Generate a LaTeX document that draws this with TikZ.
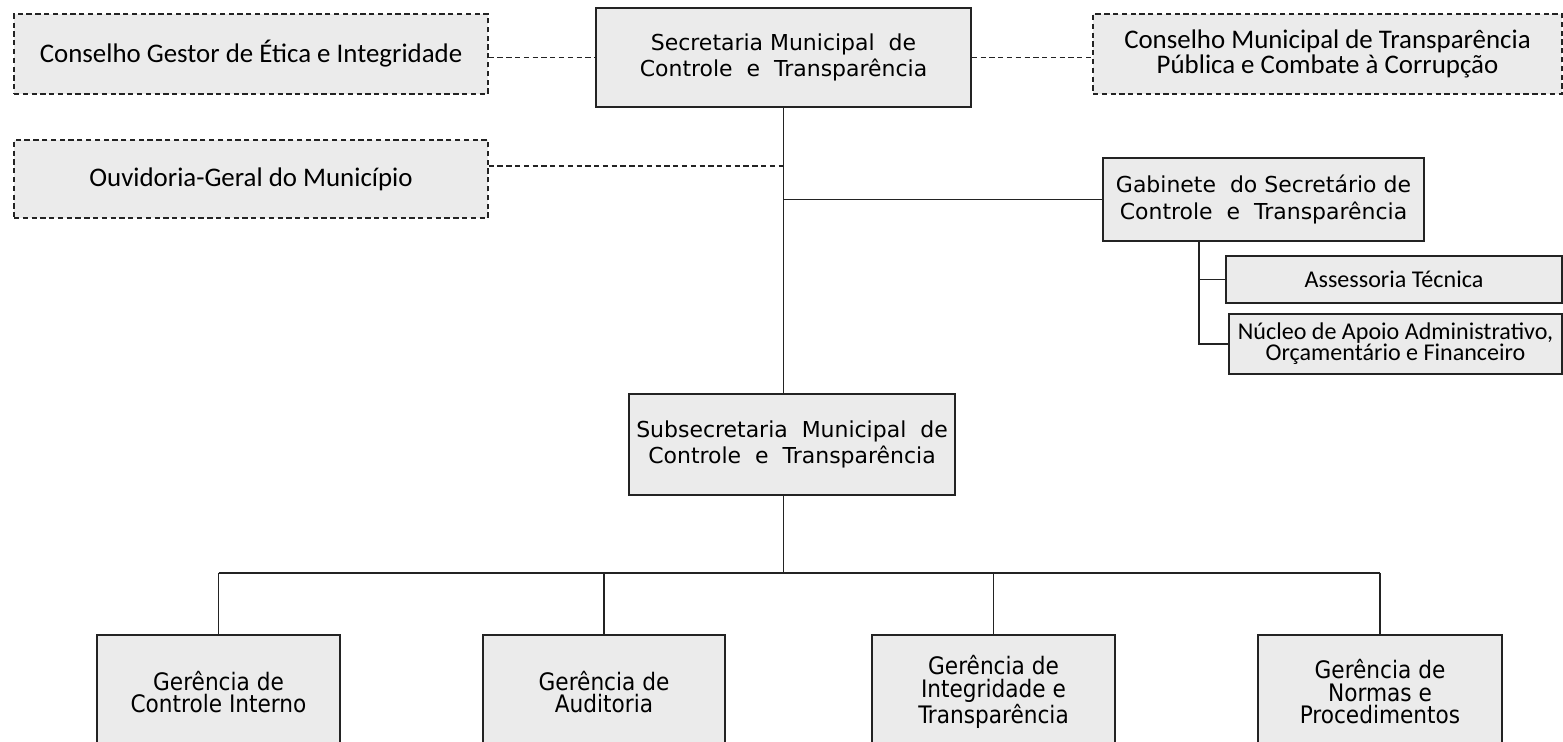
\documentclass[tikz,border=0pt]{standalone}
\usepackage{fontspec}
\setmainfont{DejaVu Sans}
\newfontfamily\condf{Carlito}
\newfontfamily\dvcf{DejaVu Sans Condensed}
\definecolor{boxfill}{RGB}{235,235,235}
\definecolor{edge}{RGB}{35,35,35}
\newcommand{\ws}{\ \ }
\begin{document}
\begin{tikzpicture}[x=0.02cm,y=-0.02cm,
  solidbox/.style={draw=edge,line width=0.9pt,fill=boxfill,align=center,inner sep=0pt},
  dashbox/.style={draw=edge,line width=0.8pt,dash pattern=on 3pt off 2pt,fill=boxfill,align=center,inner sep=0pt},
  link/.style={draw=edge,line width=0.9pt},
  dlink/.style={draw=edge,line width=0.8pt,dash pattern=on 3pt off 2pt},
  widefont/.style={font=\fontsize{12.5}{15.3}\selectfont},
  condfont/.style={font=\condf\fontsize{15.3}{14.5}\selectfont},
  smallcond/.style={font=\condf\fontsize{13.7}{12}\selectfont},
  gerfont/.style={font=\dvcf\fontsize{13.7}{12.8}\selectfont}
]
\useasboundingbox (0,0) rectangle (1563,742);
\clip (0,0) rectangle (1563,742);
\fill[white] (0,0) rectangle (1563,742);

% top row
\node[dashbox,condfont,minimum width=474*0.02cm,minimum height=80*0.02cm] (cg) at (251,54) {Conselho Gestor de Ética e Integridade};
\node[solidbox,widefont,minimum width=375*0.02cm,minimum height=99*0.02cm] (sec) at (783.5,57.5) {Secretaria Municipal\ws de\\Controle\ws e\ws Transparência};
\node[dashbox,condfont,minimum width=469*0.02cm,minimum height=80*0.02cm] (cm) at (1327.5,54) {Conselho Municipal de Transparência\\Pública e Combate à Corrupção};
\node[dashbox,condfont,minimum width=474*0.02cm,minimum height=78*0.02cm] (ouv) at (251,179) {Ouvidoria-Geral do Município};

% gabinete
\node[solidbox,widefont,minimum width=321*0.02cm,minimum height=83*0.02cm] (gab) at (1263.5,199.5) {Gabinete\ws do Secretário de\\Controle\ws e\ws Transparência};
\node[solidbox,smallcond,minimum width=336*0.02cm,minimum height=47*0.02cm] (ass) at (1394,279.5) {Assessoria Técnica};
\node[solidbox,smallcond,minimum width=333*0.02cm,minimum height=60*0.02cm] (nuc) at (1395.5,344) {Núcleo de Apoio Administrativo,\\Orçamentário e Financeiro};

% subsecretaria
\node[solidbox,widefont,minimum width=326*0.02cm,minimum height=101*0.02cm] (sub) at (792,444.5) {Subsecretaria\ws Municipal\ws de\\Controle\ws e\ws Transparência};

% gerencias
\node[solidbox,gerfont,minimum width=243*0.02cm,minimum height=114*0.02cm] (g1) at (218.5,692) {Gerência de\\Controle Interno};
\node[solidbox,gerfont,minimum width=242*0.02cm,minimum height=114*0.02cm] (g2) at (604,692) {Gerência de\\Auditoria};
\node[solidbox,gerfont,minimum width=243*0.02cm,minimum height=114*0.02cm] (g3) at (993.5,692) {Gerência de\\Integridade e\\Transparência};
\node[solidbox,gerfont,minimum width=244*0.02cm,minimum height=114*0.02cm] (g4) at (1380,692) {Gerência de\\Normas e\\Procedimentos};

% coordinates
\coordinate (trunk) at (783.5,0);
\coordinate (ouvy) at (0,166);
\coordinate (gabx) at (1199,0);
\coordinate (bus) at (0,573);

% dashed links
\draw[dlink] (cg.east |- sec.west) -- (sec.west);
\draw[dlink] (sec.east) -- (sec.east -| cm.west);
\draw[dlink] (ouv.east |- ouvy) -- (trunk |- ouvy);

% main trunk
\draw[link] (sec.south) -- (sec.south |- sub.north);
\draw[link] (gab.west) -- (gab.west -| sec.south);

% gabinete branch
\draw[link] (gabx |- gab.south) -- (gabx |- nuc.west) -- (nuc.west);
\draw[link] (gabx |- ass.west) -- (ass.west);

% subsecretaria to gerencias
\draw[link] (sec.south |- sub.south) -- (sec.south |- bus);
\draw[link] (g1.north |- bus) -- (g4.north |- bus);
\draw[link] (g1.north |- bus) -- (g1.north);
\draw[link] (g2.north |- bus) -- (g2.north);
\draw[link] (g3.north |- bus) -- (g3.north);
\draw[link] (g4.north |- bus) -- (g4.north);
\end{tikzpicture}
\end{document}
